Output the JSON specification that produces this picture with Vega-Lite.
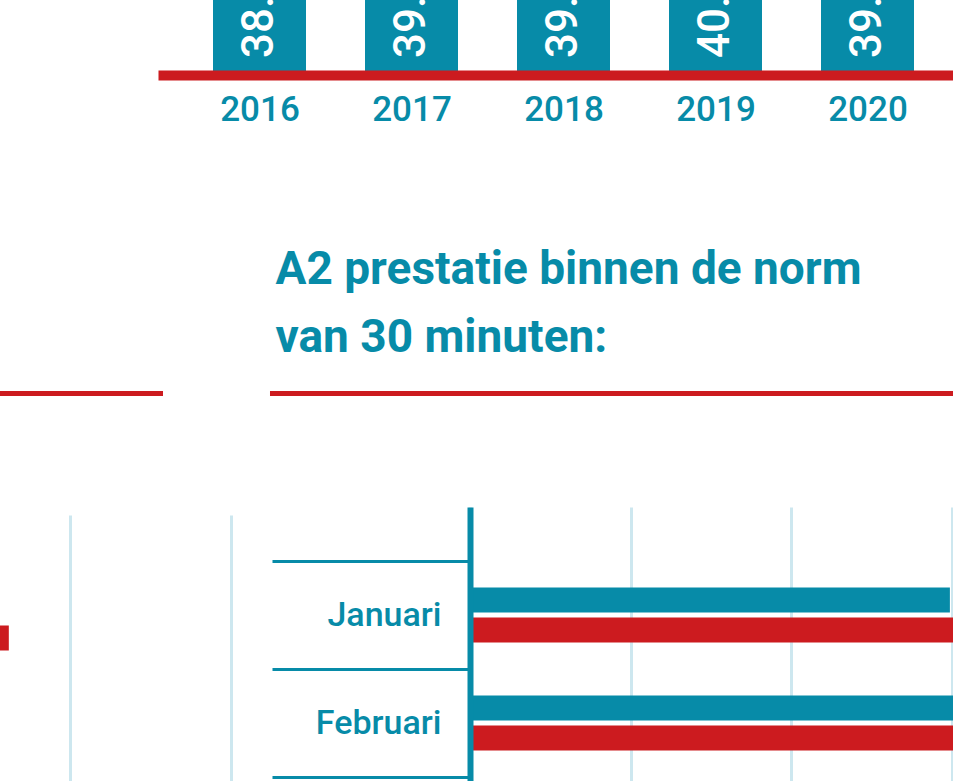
{
  "$schema": "https://vega.github.io/schema/vega-lite/v6.json",
  "width": 953,
  "height": 781,
  "padding": 0,
  "autosize": {"type": "none"},
  "background": "white",
  "config": {"view": {"stroke": null}, "font": "Roboto", "axis": {"labelFont": "Roboto"}},
  "datasets": {
    "jaren": [
      {"jaar": 2016, "waarde": 38.6},
      {"jaar": 2017, "waarde": 39.4},
      {"jaar": 2018, "waarde": 39.1},
      {"jaar": 2019, "waarde": 40.2},
      {"jaar": 2020, "waarde": 39.7}
    ],
    "a1": [
      {"maand": "Januari", "reeks": "2020", "pct": 70.1},
      {"maand": "Januari", "reeks": "2021", "pct": 72.4},
      {"maand": "Februari", "reeks": "2020", "pct": 69.4},
      {"maand": "Februari", "reeks": "2021", "pct": 70.8}
    ],
    "a2": [
      {"maand": "Januari", "reeks": "2020", "pct": 59.8},
      {"maand": "Januari", "reeks": "2021", "pct": 62.1},
      {"maand": "Februari", "reeks": "2020", "pct": 63.4},
      {"maand": "Februari", "reeks": "2021", "pct": 61.5}
    ]
  },
  "resolve": {
    "scale": {"x": "independent", "y": "independent", "yOffset": "independent", "color": "independent"},
    "axis": {"x": "independent", "y": "independent"}
  },
  "layer": [
    {
      "data": {"name": "jaren"},
      "mark": {"type": "bar", "color": "#078ba8", "size": 93, "clip": true},
      "encoding": {
        "x": {
          "field": "jaar",
          "type": "quantitative",
          "scale": {"domain": [2015.3322, 2020.5625], "range": [158, 953], "nice": false, "zero": false, "padding": 0},
          "axis": {
            "orient": "bottom",
            "offset": -706,
            "values": [2016, 2017, 2018, 2019, 2020],
            "format": "d",
            "grid": false,
            "ticks": false,
            "domainColor": "#cc1b1f",
            "domainWidth": 10,
            "labelColor": "#078ba8",
            "labelFontSize": 35,
            "labelFontWeight": 500,
            "labelPadding": 17,
            "title": null,
            "zindex": 1
          }
        },
        "y": {"field": "waarde", "type": "quantitative", "scale": {"domain": [0, 10], "range": [75, 0], "nice": false, "zero": false}, "axis": null}
      }
    },
    {
      "data": {"name": "jaren"},
      "mark": {"type": "text", "angle": 270, "align": "left", "baseline": "middle", "dx": 17, "color": "white", "fontSize": 44, "fontWeight": 500, "clip": true},
      "encoding": {
        "x": {"field": "jaar", "type": "quantitative", "scale": {"domain": [2015.3322, 2020.5625], "range": [158, 953], "nice": false, "zero": false, "padding": 0}, "axis": null},
        "y": {"datum": 0, "type": "quantitative", "scale": {"domain": [0, 10], "range": [75, 0], "nice": false, "zero": false}, "axis": null},
        "text": {"field": "waarde", "type": "quantitative", "format": ".1f"}
      }
    },
    {
      "data": {"values": [{"titel": "A2"}]},
      "mark": {"type": "text", "align": "left", "baseline": "alphabetic", "fontSize": 46, "fontWeight": "bold", "color": "#078ba8", "lineHeight": 68, "text": ["A2 prestatie binnen de norm", "van 30 minuten:"]},
      "encoding": {
        "x": {"datum": 2016.1053, "type": "quantitative", "scale": {"domain": [2015.3322, 2020.5625], "range": [158, 953], "nice": false, "zero": false, "padding": 0}, "axis": null},
        "y": {"datum": -27.867, "type": "quantitative", "scale": {"domain": [0, 10], "range": [75, 0], "nice": false, "zero": false}, "axis": null}
      }
    },
    {
      "data": {"values": [{"kolom": "A1"}]},
      "mark": {"type": "rule", "color": "#cc1b1f", "strokeWidth": 5, "strokeCap": "butt"},
      "encoding": {
        "x": {"datum": 2014.29, "type": "quantitative", "scale": {"domain": [2015.3322, 2020.5625], "range": [158, 953], "nice": false, "zero": false, "padding": 0}, "axis": null},
        "x2": {"datum": 2015.3651},
        "y": {"datum": -42.467, "type": "quantitative", "scale": {"domain": [0, 10], "range": [75, 0], "nice": false, "zero": false}, "axis": null}
      }
    },
    {
      "data": {"values": [{"kolom": "A2"}]},
      "mark": {"type": "rule", "color": "#cc1b1f", "strokeWidth": 5, "strokeCap": "butt"},
      "encoding": {
        "x": {"datum": 2016.069, "type": "quantitative", "scale": {"domain": [2015.3322, 2020.5625], "range": [158, 953], "nice": false, "zero": false, "padding": 0}, "axis": null},
        "x2": {"datum": 2020.5625},
        "y": {"datum": -42.467, "type": "quantitative", "scale": {"domain": [0, 10], "range": [75, 0], "nice": false, "zero": false}, "axis": null}
      }
    },
    {
      "data": {"name": "a1"},
      "mark": {"type": "bar", "clip": true},
      "encoding": {
        "y": {
          "field": "maand",
          "type": "nominal",
          "scale": {"domain": ["Januari", "Februari", "Maart", "April", "Mei", "Juni", "Juli", "Augustus", "September", "Oktober", "November", "December"], "range": [515, 1919], "paddingInner": 0, "paddingOuter": 0.5},
          "axis": null
        },
        "x": {
          "field": "pct",
          "type": "quantitative",
          "scale": {"domain": [0, 100], "range": [-574, 231], "nice": false},
          "axis": {"values": [0, 20, 40, 60, 80, 100], "grid": true, "gridColor": "#cde7ef", "gridWidth": 3, "domain": false, "ticks": false, "labels": false, "title": null}
        },
        "yOffset": {"field": "reeks", "type": "nominal", "scale": {"paddingInner": 0.1667, "paddingOuter": 0.8833}},
        "color": {"field": "reeks", "type": "nominal", "scale": {"range": ["#078ba8", "#cc1b1f"]}, "legend": null}
      }
    },
    {
      "data": {"name": "a2"},
      "mark": {"type": "bar"},
      "encoding": {
        "y": {
          "field": "maand",
          "type": "nominal",
          "scale": {"domain": ["Januari", "Februari", "Maart", "April", "Mei", "Juni", "Juli", "Augustus", "September", "Oktober", "November", "December"], "range": [507, 1911], "paddingInner": 0, "paddingOuter": 0.5},
          "axis": {
            "orient": "left",
            "offset": -470,
            "domainColor": "#078ba8",
            "domainWidth": 6,
            "tickBand": "extent",
            "tickSize": 198,
            "tickColor": "#078ba8",
            "tickWidth": 3,
            "labelPadding": -169,
            "labelColor": "#078ba8",
            "labelFontSize": 34,
            "labelFontWeight": 500,
            "grid": false,
            "title": null,
            "zindex": 1
          }
        },
        "x": {
          "field": "pct",
          "type": "quantitative",
          "scale": {"domain": [0, 100], "range": [470, 1272.5], "nice": false},
          "axis": {"values": [0, 20, 40, 60, 80, 100], "grid": true, "gridColor": "#cde7ef", "gridWidth": 3, "domain": false, "ticks": false, "labels": false, "title": null}
        },
        "yOffset": {"field": "reeks", "type": "nominal", "scale": {"paddingInner": 0.1667, "paddingOuter": 0.8833}},
        "color": {"field": "reeks", "type": "nominal", "scale": {"range": ["#078ba8", "#cc1b1f"]}, "legend": null}
      }
    }
  ]
}
